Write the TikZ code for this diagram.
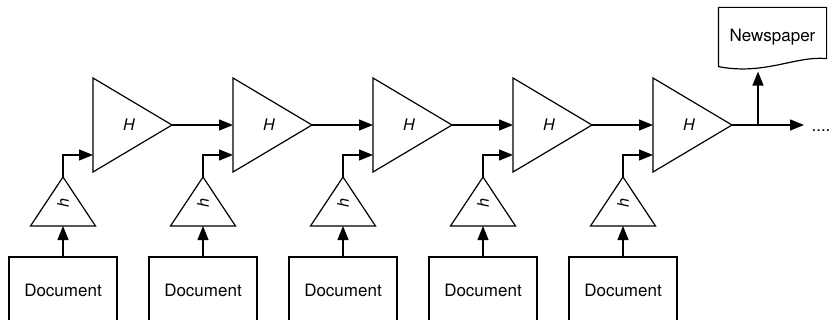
\documentclass[tikz,border=0pt]{standalone}
\usepackage{fontspec}
\setmainfont{TeX Gyre Heros}
\usetikzlibrary{arrows.meta,shapes.geometric,calc}
\begin{document}
\begin{tikzpicture}[x=1pt,y=-1pt,line width=1.2pt,>={Triangle[length=14pt,width=11pt]},
  font=\fontsize{17}{20}\selectfont,
  big/.style={draw,isosceles triangle,isosceles triangle stretches,shape border rotate=0,minimum width=94pt,minimum height=79pt,inner sep=0pt,outer sep=0pt,anchor=west},
  small/.style={draw,isosceles triangle,isosceles triangle stretches,shape border rotate=90,minimum width=65pt,minimum height=49pt,inner sep=0pt,outer sep=0pt,anchor=south},
  doc/.style={draw,minimum width=108pt,minimum height=66pt,inner sep=0pt,outer sep=0pt},
  tag/.style={inner sep=0pt,font=\fontsize{16}{18}\selectfont\itshape}]
  \useasboundingbox (0,0) rectangle (834,320);
  \node[big] (H1) at (93,125){};
  \node[big] (H2) at (233,125){};
  \node[big] (H3) at (373,125){};
  \node[big] (H4) at (513,125){};
  \node[big] (H5) at (653,125){};
  \node[tag] (l1) at (129,125){H};
  \node[tag] (l2) at (269,125){H};
  \node[tag] (l3) at (409,125){H};
  \node[tag] (l4) at (549,125){H};
  \node[tag] (l5) at (689,125){H};
  \node[small] (s1) at (63,226){};
  \node[small] (s2) at (203,226){};
  \node[small] (s3) at (343,226){};
  \node[small] (s4) at (483,226){};
  \node[small] (s5) at (623,226){};
  \node[tag] (k1) at (63,203){\rotatebox{90}{h}};
  \node[tag] (k2) at (203,203){\rotatebox{90}{h}};
  \node[tag] (k3) at (343,203){\rotatebox{90}{h}};
  \node[tag] (k4) at (483,203){\rotatebox{90}{h}};
  \node[tag] (k5) at (623,203){\rotatebox{90}{h}};
  \node[doc] (d1) at (63,290){Document};
  \node[doc] (d2) at (203,290){Document};
  \node[doc] (d3) at (343,290){Document};
  \node[doc] (d4) at (483,290){Document};
  \node[doc] (d5) at (623,290){Document};
  \node[minimum width=107pt,minimum height=58pt,inner sep=0pt] (np) at (772.5,37){Newspaper};
  \draw (np.south west) -- (np.north west) -- (np.north east) -- ($(np.south east)+(0,-8)$)
    .. controls ($(np.south east)+(-31,-11)$) and ($(np.south west)+(46,9)$) .. (np.south west) -- cycle;
  \node[inner sep=0pt] (dots) at (821,131){....};
  \coordinate (i1) at ($(H1.west)+(0,30)$);
  \coordinate (i2) at ($(H2.west)+(0,30)$);
  \coordinate (i3) at ($(H3.west)+(0,30)$);
  \coordinate (i4) at ($(H4.west)+(0,30)$);
  \coordinate (i5) at ($(H5.west)+(0,30)$);
  \coordinate (fork) at ($(H5.apex)+(26,0)$);
  \coordinate (out) at ($(H5.apex)+(72,0)$);
  \coordinate (up) at ($(fork |- np.south)+(0,5)$);
  \draw[->] (d1.north) -- (s1.south);
  \draw[->] (d2.north) -- (s2.south);
  \draw[->] (d3.north) -- (s3.south);
  \draw[->] (d4.north) -- (s4.south);
  \draw[->] (d5.north) -- (s5.south);
  \draw[->] (s1.apex) |- (i1);
  \draw[->] (s2.apex) |- (i2);
  \draw[->] (s3.apex) |- (i3);
  \draw[->] (s4.apex) |- (i4);
  \draw[->] (s5.apex) |- (i5);
  \draw[->] (H1.apex) -- (H2.west);
  \draw[->] (H2.apex) -- (H3.west);
  \draw[->] (H3.apex) -- (H4.west);
  \draw[->] (H4.apex) -- (H5.west);
  \draw[->] (H5.apex) -- (out);
  \draw[->] (fork) -- (up);
\end{tikzpicture}
\end{document}
